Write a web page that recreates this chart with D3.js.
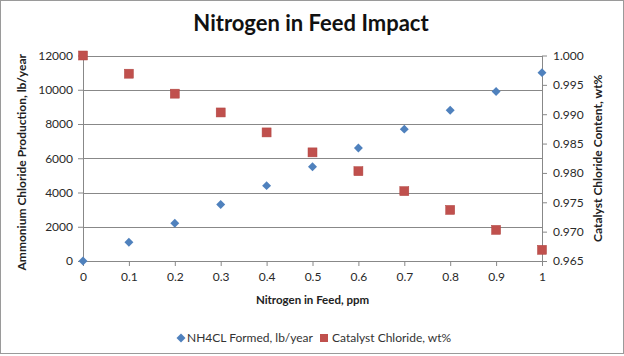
<!DOCTYPE html>
<html><head><meta charset="utf-8">
<script src="https://cdn.jsdelivr.net/npm/d3@7"></script>
<style>body{margin:0;background:#fff}svg{display:block}text{font-family:Lato,"Open Sans",sans-serif}</style>
</head><body>
<script>
const xValues = [0,0.1,0.2,0.3,0.4,0.5,0.6,0.7,0.8,0.9,1];
const nh4clFormed = [0,1100,2200,3300,4400,5500,6600,7700,8800,9900,11000];
const catalystChloride = [1.000,0.9969,0.9935,0.9903,0.9869,0.9835,0.9803,0.9769,0.9737,0.9703,0.9669];
const leftTicks = [0,2000,4000,6000,8000,10000,12000];
const rightTicks = [0.965,0.970,0.975,0.980,0.985,0.990,0.995,1.000];
const xTicks = [0,0.1,0.2,0.3,0.4,0.5,0.6,0.7,0.8,0.9,1];

const W=624,H=356;
const svg=d3.select("body").append("svg").attr("width",W).attr("height",H);
svg.append("rect").attr("x",0.5).attr("y",0.5).attr("width",W-1).attr("height",H-3).attr("fill","#fff").attr("stroke","#9a9a9a");

const m={l:83,r:542,t:55.5,b:261};
const x=d3.scaleLinear().domain([0,1]).range([m.l,m.r]);
const yL=d3.scaleLinear().domain([0,12000]).range([m.b,m.t]);
const yR=d3.scaleLinear().domain([0.965,1.0]).range([m.b,m.t]);
const grey="#888";

// gridlines
svg.append("g").selectAll("line").data(leftTicks.filter(d=>d>0)).join("line")
 .attr("x1",m.l).attr("x2",m.r).attr("y1",d=>Math.round(yL(d))+0.5).attr("y2",d=>Math.round(yL(d))+0.5)
 .attr("stroke",grey).attr("stroke-width",1);

function styleAxis(g){
  g.select(".domain").attr("stroke",grey);
  g.selectAll(".tick line").attr("stroke",grey);
  g.selectAll(".tick text").attr("fill","#2a2a2a").style("font-size","12px").style("font-family","Lato,sans-serif");
}
const gx=svg.append("g").attr("transform",`translate(0,${m.b})`)
 .call(d3.axisBottom(x).tickValues(xTicks).tickFormat(d=>String(+d.toFixed(1))).tickSize(5).tickSizeOuter(0).tickPadding(6));
styleAxis(gx);
const gl=svg.append("g").attr("transform",`translate(${m.l},0)`)
 .call(d3.axisLeft(yL).tickValues(leftTicks).tickFormat(d3.format("d")).tickSize(5).tickSizeOuter(0).tickPadding(5));
styleAxis(gl);
const gr=svg.append("g").attr("transform",`translate(${m.r},0)`)
 .call(d3.axisRight(yR).tickValues(rightTicks).tickFormat(d3.format(".3f")).tickSize(5).tickSizeOuter(0).tickPadding(6));
styleAxis(gr);

// series
svg.append("g").selectAll("path").data(xValues.map((d,i)=>[d,nh4clFormed[i]])).join("path")
 .attr("d",d3.symbol(d3.symbolSquare,40)())
 .attr("transform",d=>`translate(${x(d[0])},${yL(d[1])}) rotate(45)`)
 .attr("fill","#4F81BD");
svg.append("g").selectAll("rect").data(xValues.map((d,i)=>[d,catalystChloride[i]])).join("rect")
 .attr("x",d=>x(d[0])-4.5).attr("y",d=>yR(d[1])-4.5).attr("width",9).attr("height",9)
 .attr("fill","#C0504D").attr("stroke","#b04440").attr("stroke-width",0.5);

// titles
svg.append("text").attr("x",311).attr("y",31).attr("text-anchor","middle")
 .style("font-size","22px").style("font-weight","bold").attr("fill","#111").text("Nitrogen in Feed Impact");
svg.append("text").attr("x",(m.l+m.r)/2).attr("y",304).attr("text-anchor","middle")
 .style("font-size","11.5px").style("font-weight","bold").attr("fill","#222").text("Nitrogen in Feed, ppm");
svg.append("text").attr("transform",`translate(26,${(m.t+m.b)/2+4}) rotate(-90)`).attr("text-anchor","middle")
 .style("font-size","12px").style("font-weight","bold").attr("fill","#222").text("Ammonium Chloride Production, lb/year");
svg.append("text").attr("transform",`translate(602,${(m.t+m.b)/2}) rotate(-90)`).attr("text-anchor","middle")
 .style("font-size","12px").style("font-weight","bold").attr("fill","#222").text("Catalyst Chloride Content, wt%");

// legend
const lg=svg.append("g");
lg.append("path").attr("d",d3.symbol(d3.symbolSquare,40)()).attr("transform","translate(181,338) rotate(45)").attr("fill","#4F81BD");
lg.append("text").attr("x",187).attr("y",342).style("font-size","12px").attr("fill","#333").text("NH4CL Formed, lb/year");
lg.append("rect").attr("x",320).attr("y",334).attr("width",8).attr("height",8).attr("fill","#C0504D");
lg.append("text").attr("x",332).attr("y",342).style("font-size","12px").attr("fill","#333").text("Catalyst Chloride, wt%");
</script>
</body></html>
